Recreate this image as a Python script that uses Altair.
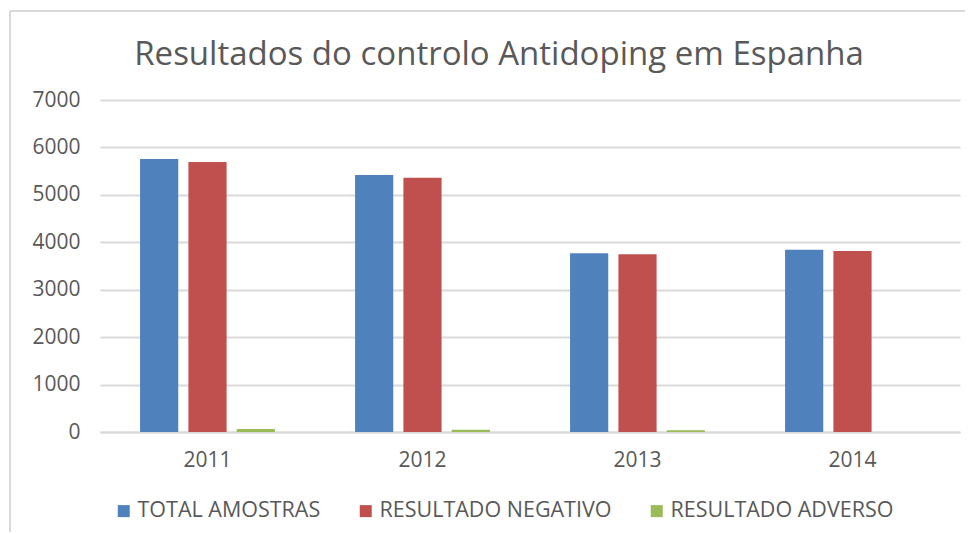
import altair as alt
import pandas as pd

years = ["2011", "2012", "2013", "2014"]
series = ["TOTAL AMOSTRAS", "RESULTADO NEGATIVO", "RESULTADO ADVERSO"]
total_amostras = [5756, 5418, 3768, 3844]
resultado_negativo = [5693, 5362, 3747, 3816]
resultado_adverso = [65, 50, 35, 0]
colors = ["#4F81BD", "#C0504D", "#9BBB59"]
title_text = "Resultados do controlo Antidoping em Espanha"

rows = []
for i, y in enumerate(years):
    for s, vals in zip(series, [total_amostras, resultado_negativo, resultado_adverso]):
        rows.append({"Ano": y, "Serie": s, "Valor": vals[i]})
df = pd.DataFrame(rows)

FONT = "Open Sans"
GRAY = "#595959"

bars = alt.Chart(df).mark_bar().encode(
    x=alt.X("Ano:N", sort=years, title=None,
            scale=alt.Scale(paddingInner=0.33, paddingOuter=0.165),
            axis=alt.Axis(labelAngle=0, labelFontSize=21, labelColor=GRAY, labelFont=FONT,
                          ticks=False, labelPadding=17, domainColor="#d9d9d9", domainWidth=2)),
    xOffset=alt.XOffset("Serie:N", sort=series, scale=alt.Scale(paddingInner=0.21, paddingOuter=0.095)),
    y=alt.Y("Valor:Q", title=None,
            scale=alt.Scale(domain=[0, 7000]),
            axis=alt.Axis(values=[0, 1000, 2000, 3000, 4000, 5000, 6000, 7000], format="d",
                          labelFontSize=21, labelColor=GRAY, labelFont=FONT, ticks=False,
                          domain=False, labelPadding=20, gridColor="#d9d9d9", gridWidth=2)),
    color=alt.Color("Serie:N", sort=series, scale=alt.Scale(domain=series, range=colors),
                    legend=alt.Legend(title=None, orient="none", direction="horizontal",
                                      legendX=13, legendY=400, symbolType="square", symbolSize=144,
                                      symbolStrokeWidth=0, labelFontSize=21.5, labelColor=GRAY,
                                      labelFont=FONT, columnPadding=34, labelOffset=3, labelLimit=400)),
)

title_df = pd.DataFrame({"t": [title_text]})
title = alt.Chart(title_df).mark_text(font=FONT, fontSize=33, color=GRAY, align="center",
                                      baseline="alphabetic").encode(
    text="t:N", x=alt.value(399), y=alt.value(-35))

frame_df = pd.DataFrame({"k": [1]})
frame_top = alt.Chart(frame_df).mark_rule(color="#d9d9d9", strokeWidth=2).encode(
    x=alt.value(-90), x2=alt.value(880), y=alt.value(-89))
frame_left = alt.Chart(frame_df).mark_rule(color="#d9d9d9", strokeWidth=2).encode(
    x=alt.value(-90), y=alt.value(-89), y2=alt.value(440))

chart = alt.layer(frame_top, frame_left, bars, title).properties(
    width=860, height=332,
    autosize=alt.AutoSizeParams(type="none"),
    padding={"left": 92, "top": 92, "right": 5, "bottom": 100},
).configure_view(stroke=None)

chart.save("out.html", embed_options={"renderer": "svg", "actions": False})
